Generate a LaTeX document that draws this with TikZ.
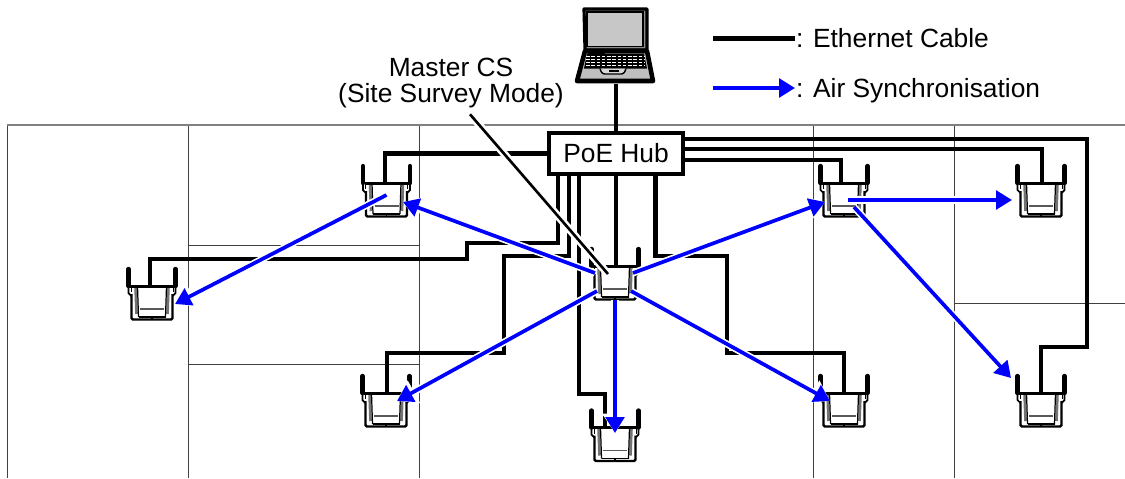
\documentclass[tikz,border=0pt]{standalone}
\usepackage{fontspec}
\setmainfont{Liberation Sans}
\usepackage{tikz}
\usetikzlibrary{arrows.meta,positioning,calc}
\definecolor{airblue}{RGB}{0,0,255}
\tikzset{
  % floor plan walls
  wallln/.style={line width=0.55pt, black!75},
  walltop/.style={line width=0.9pt, black!50},
  % ethernet cable
  cableln/.style={line width=2.4pt, black},
  % air synchronisation arrow, white halo underneath
  airsync/.style={-{Triangle[length=9pt,width=10.5pt]}, line width=2.1pt, airblue,
    preaction={draw=white, line width=4pt, -{Triangle[length=11pt,width=14pt]}}},
  % pointer from the label to the master
  pointln/.style={line width=1.5pt, black,
    preaction={draw=white, line width=4.4pt}},
  hubbox/.style={draw, line width=2.2pt, fill=white, minimum width=2.68cm, minimum height=0.82cm,
    inner sep=0pt, outer sep=0pt},
  apbox/.style={minimum width=0.82cm, minimum height=0.68cm, inner sep=0pt, outer sep=0pt},
  lbl/.style={inner sep=0pt, outer sep=0pt, font=\fontsize{15}{15.2}\selectfont},
  % access point, origin at the middle of its top edge
  apicon/.pic={
    \fill[white] (-20.5,0) rectangle (20.5,33.5);
    \foreach \s in {-1,1}{
      \draw[line width=2.5pt, line cap=round] (\s*23.5,-17) -- (\s*23.5,0);
      \draw[line width=1pt] (\s*23.5,0) -- (\s*23.5,7) -- (\s*20.5,10);
      \draw[line width=0.5pt] (\s*21,0) -- (\s*21,6);
      \draw[line width=1.5pt, black!55] (\s*16.5,0) -- (\s*15.5,28);
      \draw[line width=0.7pt] (\s*14.5,0) -- (\s*13.5,31);
    }
    \draw[line width=1.4pt, rounded corners=0.8pt] (-20.5,8) -- (-20.5,33.5) -- (20.5,33.5) -- (20.5,8);
    \draw[line width=1.7pt] (-22,0) -- (22,0);
    \draw[line width=0.8pt] (-13.5,31) -- (13.5,31);
    \draw[line width=0.8pt] (0,31) -- (0,33.5);
    \draw[line width=0.7pt, black!65] (-12,23) -- (12,23);
  },
  % laptop, origin at its centre
  laptopicon/.pic={
    \filldraw[fill=black!45, line width=1.8pt, line join=round] (-32,-37) -- (31,-37) -- (31,4) -- (-31,4) -- cycle;
    \draw[line width=0.7pt, fill=black!22] (-29,-34) rectangle (27,0.5);
    \filldraw[fill=black!25, line width=2.6pt, line join=round] (-31,5) -- (31,5) -- (37,35) -- (-39,35) -- cycle;
    \draw[line width=1.2pt, fill=black!40] (-27,4.5) rectangle (-12,6.5);
    \fill[black] (-29,7.5) -- (28,7.5) -- (31,22.5) -- (-32,22.5) -- cycle;
    \foreach \r in {10.5,13.5,16.5,19.5}
      \draw[white, line width=0.6pt, dash pattern=on 2pt off 1pt] (-30,\r) -- (29,\r);
    \draw[line width=0.8pt, rounded corners=1.5pt, fill=black!15] (-16,22.5) -- (-14,28) -- (8,28) -- (10,22.5);
    \draw[line width=0.8pt] (-7,25) -- (3,25);
  },
}
\begin{document}
\begin{tikzpicture}[x=0.02cm, y=-0.02cm]
    \useasboundingbox (0,0) rectangle (1125,478);
    % floor plan
    \draw[wallln] (7,125) -- (7,478);
    \foreach \wx in {188,419,813,954}
      \draw[wallln] (\wx,125) -- (\wx,478);
    \draw[wallln] (188,245) -- (419,245);
    \draw[wallln] (188,364) -- (419,364);
    \draw[wallln] (954,303) -- (1125,303);
    \draw[walltop] (7,125) -- (1125,125);
    % hub, laptop and access points
    \node[hubbox, lbl] (hub) at (616,153.5) {PoE Hub};
    \node[minimum width=1.52cm, minimum height=1.52cm, inner sep=0pt, outer sep=0pt] (laptop) at (616,46) {};
    \node[apbox] (apA) at (386.5,200) {};
    \node[apbox] (apL) at (152,303) {};
    \node[apbox] (apM) at (615,283) {};
    \node[apbox] (apB) at (386,410) {};
    \node[apbox] (apS) at (615,444.5) {};
    \node[apbox] (apC) at (844,410) {};
    \node[apbox] (apR) at (1041,410) {};
    \node[apbox] (apT) at (844,200) {};
    \node[apbox] (apU) at (1041,200) {};
    % cables
    \draw[cableln] (laptop.south) -- (hub.north);
    \draw[cableln] (hub.west) -| (385,183) -- ($(apA.north)+(-1.5,0)$);
    \draw[cableln] ($(hub.south)+(-58,0)$) |- (467,243) |- (150,259) -- ($(apL.north)+(-2,0)$);
    \draw[cableln] ($(hub.south)+(-47,0)$) |- (504,256) |- (387,353) -- ($(apB.north)+(1,0)$);
    \draw[cableln] ($(hub.south)+(-37,0)$) |- (605,394) -- ($(apS.north)+(-10,0)$);
    \draw[cableln] (hub.south) -- ($(apM.north)+(1,0)$);
    \draw[cableln] ($(hub.south)+(39.5,0)$) |- (727,256) |- (844,353) -- (apC.north);
    \draw[cableln] ($(hub.east)+(0,-14.5)$) -| (1087,347) -| (apR.north);
    \draw[cableln] ($(hub.east)+(0,-4.5)$) -| ($(apU.north)+(1,0)$);
    \draw[cableln] ($(hub.east)+(0,6.5)$) -| ($(apT.north)+(-3,0)$);
    \foreach \ap in {apA,apL,apM,apB,apS,apC,apR,apT,apU}
      \pic at (\ap.north) {apicon};
    \pic at (laptop.center) {laptopicon};
    % air synchronisation
    \draw[airsync] ($(apM)+(-20,-10)$) -- ($(apA)+(16.5,2)$);
    \draw[airsync] ($(apM)+(18,-10)$) -- ($(apT)+(-19,2)$);
    \draw[airsync] ($(apM)+(-18,8)$) -- ($(apB)+(11,-9)$);
    \draw[airsync] (apM) -- ($(apS)+(0,-11.5)$);
    \draw[airsync] ($(apM)+(16,8)$) -- ($(apC)+(-14,-9)$);
    \draw[airsync] ($(apA)+(0,-5)$) -- ($(apL)+(23,1)$);
    \draw[airsync] ($(apT)+(4,0)$) -- ($(apU)+(-29,0)$);
    \draw[airsync] ($(apT)+(10,7)$) -- ($(apR)+(-30,-32)$);
    % master label
    \node[lbl, align=center] (mastercs) at (451,83) {Master CS\\(Site Survey Mode)};
    \draw[pointln] ($(mastercs.south)+(19,6)$) -- ($(apM)+(-7,-9)$);
    % legend
    \node[lbl, anchor=base west] (ethlabel) at (796,47) {: Ethernet Cable};
    \node[lbl, anchor=base west] (airlabel) at (796,97) {: Air Synchronisation};
    \coordinate (ethstart) at (713,38.5);
    \coordinate (ethend) at (795,38.5);
    \coordinate (airstart) at (713,88);
    \coordinate (airend) at (795,88);
    \draw[cableln] (ethstart) -- (ethend);
    \draw[airsync] (airstart) -- (airend);
  \end{tikzpicture}
\end{document}
